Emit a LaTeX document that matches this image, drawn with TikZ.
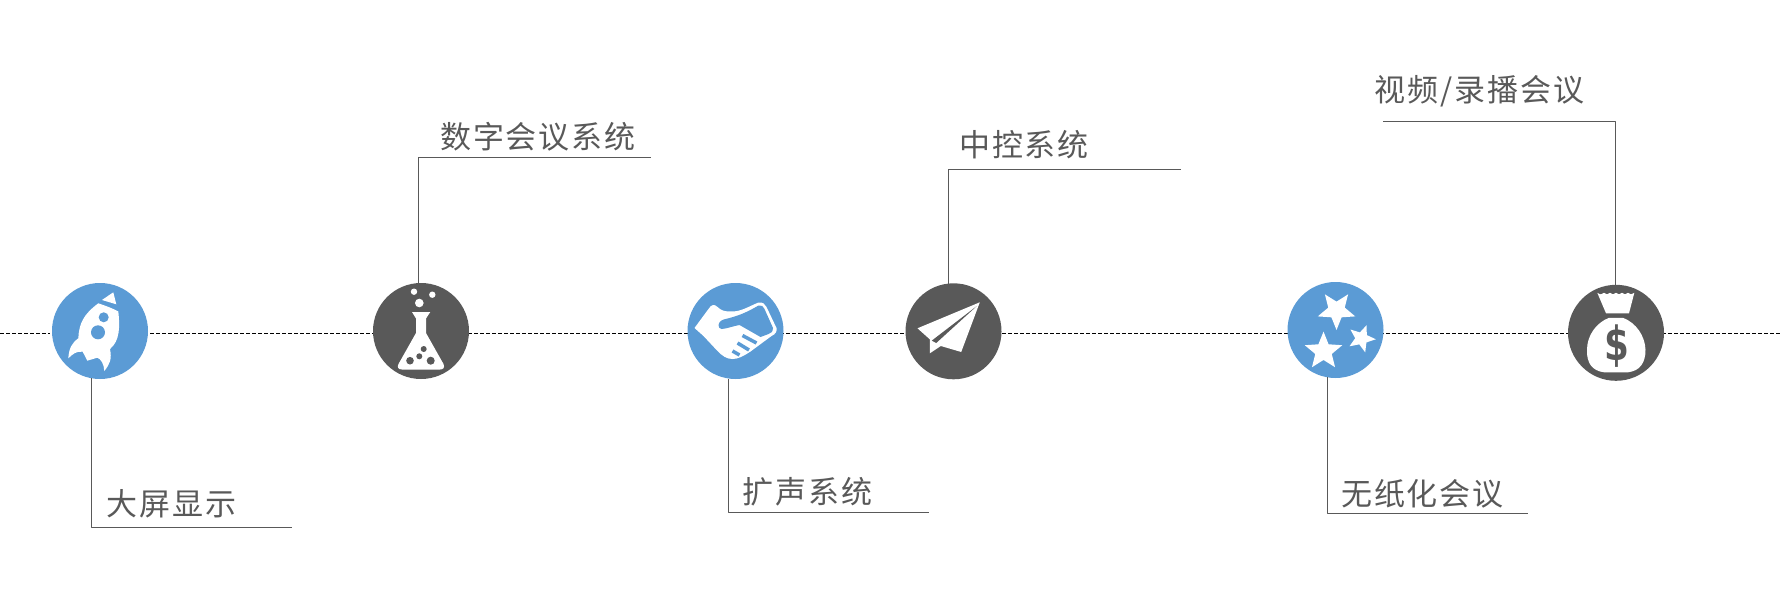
\documentclass[tikz,border=0pt]{standalone}
\usepackage{fontspec}
\setmainfont{Noto Sans CJK SC}[LetterSpace=6]
\newfontfamily\dollarfont{DejaVu Sans}
\definecolor{iconblue}{HTML}{5B9BD5}
\definecolor{icongray}{HTML}{595959}
\tikzset{
	bluedot/.style={circle,fill=iconblue,inner sep=0pt,outer sep=0pt,minimum size=96pt},
	graydot/.style={circle,fill=icongray,inner sep=0pt,outer sep=0pt,minimum size=96pt},
	leader/.style={draw=icongray,line width=1pt},
	caption/.style={anchor=west,inner sep=0pt,text=icongray,font=\fontsize{31}{36}\selectfont},
}
% five pointed star: centre, radius, angle of one tip
\newcommand{\iconstar}[3]{\fill[white,shift={(#1)}] (#3:#2) \foreach \i in {0,...,4} {-- ({#3+36+72*\i}:#2*0.44) -- ({#3+72+72*\i}:#2)} -- cycle;}
\begin{document}
\begin{tikzpicture}[x=1pt,y=-1pt,line join=round]
	\useasboundingbox (0,0) rectangle (1782,594);
	\coordinate (lineL) at (0,333.3);
	\coordinate (lineR) at (1782,333.3);
	\draw[black,line width=1pt,dash pattern=on 4pt off 2pt] (lineL)--(lineR);
	\draw[white,line width=2pt] (100,331) circle (49);
	\node[bluedot] (rocket) at (100,331) {};
	\node[graydot] (flask) at (421,331) {};
	\node[bluedot] (hands) at (735.5,331) {};
	\node[graydot] (plane) at (953.5,331.3) {};
	\node[bluedot] (stars) at (1335.5,330) {};
	\node[graydot] (bag) at (1616,332.8) {};
	\node[caption] (screen) at (106.5,504) {大屏显示};
	\node[caption] (digital) at (440,136.5) {数字会议系统};
	\node[caption] (audio) at (742.5,492) {扩声系统};
	\node[caption] (control) at (959,145) {中控系统};
	\node[caption] (paperless) at (1341,494) {无纸化会议};
	\node[caption] (video) at (1374.5,91) {视频/录播会议};
	\coordinate (screenEnd) at (291.5,527);
	\coordinate (digitalEnd) at (650.6,157.2);
	\coordinate (audioEnd) at (928.5,512.3);
	\coordinate (controlEnd) at (1180.8,169.3);
	\coordinate (paperlessEnd) at (1527.5,513.4);
	\coordinate (videoEnd) at (1383,121.2);
	\draw[leader] (rocket.-100.4) |- (screenEnd);
	\draw[leader] (flask.93.2) |- (digitalEnd);
	\draw[leader] (hands.-98.6) |- (audioEnd);
	\draw[leader] (plane.96.2) |- (controlEnd);
	\draw[leader] (stars.-100.8) |- (paperlessEnd);
	\draw[leader] (bag.91.5) |- (videoEnd);
	% rocket
	\begin{scope}[shift={(rocket.center)}]
		\fill[white] (2,-31)--(13.3,-38.7)--(16.3,-26.7)--cycle;
		\fill[white] (-1.7,-27.7) .. controls (6,-25) and (12,-23) .. (18.3,-19.5)
			.. controls (20,-5) and (20,10) .. (10,18) .. controls (12,28) and (10,33) .. (4.3,40)
			.. controls (4,33) and (1,28) .. (-2.7,26.7) -- (-12.7,29.7) -- (-17.3,20.7)
			.. controls (-24,20) and (-27,23) .. (-31.7,27.3) .. controls (-31,17) and (-28,12) .. (-21.7,7.3)
			.. controls (-21,-8) and (-16,-17) .. (-1.7,-27.7) -- cycle;
		\fill[iconblue] (3.7,-13.7) circle (5) (-2,1.3) circle (7);
	\end{scope}
	% flask
	\begin{scope}[shift={(flask.center)}]
		\fill[white] (-7,-39.3) circle (3.2) (11.3,-36.3) circle (3.2) (-1.7,-28) circle (4.3);
		\fill[white] (-9,-19) -- (9.3,-19) -- (5,-12.5) -- (5,2) -- (22.5,33) .. controls (24,37) and (22,38.5) .. (19,38.5)
			-- (-19,38.5) .. controls (-23,38.5) and (-24,36) .. (-22.5,33) -- (-5,2) -- (-5,-12.5) -- cycle;
		\fill[icongray] (2.7,18) circle (3) (-1.7,25.3) circle (3) (-11,29.7) circle (3.8) (9.7,29.7) circle (4);
	\end{scope}
	% handshake
	\begin{scope}[shift={(hands.center)}]
		\fill[white] (-41,-3) -- (-27,-22) .. controls (-24,-27) and (-21,-27) .. (-18,-24) .. controls (-14,-20) and (-10,-19.5) .. (-5,-19.5)
			.. controls (5,-19) and (12,-24) .. (23,-28.5) .. controls (27,-29) and (30,-27) .. (31,-24)
			-- (41,-3) .. controls (41.5,1) and (40,3) .. (36,5) -- (15,20.5) .. controls (8,25) and (3,28) .. (-3,28)
			.. controls (-9,28) and (-13,25) .. (-18,20) -- (-32,5) -- cycle;
		\fill[iconblue] (-17,-6) .. controls (-16,-10) and (-14,-11) .. (-10,-12) .. controls (3,-15) and (12,-19) .. (23,-25.5)
			.. controls (26,-26) and (28,-25) .. (29,-22) -- (37.5,-3) .. controls (37,1) and (36,2) .. (33,3) -- (25,6)
			-- (4,-6) .. controls (-2,-5) and (-10,-2) .. (-14,-2) .. controls (-16,-2) and (-17,-4) .. (-17,-6) -- cycle;
		\draw[iconblue,line width=3.5pt] (7,4.5)--(21,12) (2,12)--(13.5,19) (-3,20)--(4,24);
	\end{scope}
	% paper plane
	\begin{scope}[shift={(plane.center)}]
		\fill[white] (26.3,-29) -- (-36,-3) -- (-23.7,8) -- (-23.7,22) -- (-12.7,14.7) -- (7.7,20.7) -- cycle;
		\fill[icongray] (23,-25) -- (-21.7,9.3) -- (-17.3,11.7) -- cycle;
	\end{scope}
	% stars
	\begin{scope}[shift={(stars.center)}]
		\iconstar{1,-19.7}{19.7}{90}
		\iconstar{-12,21.3}{19.7}{-90}
		\iconstar{26,8.5}{14.3}{3}
	\end{scope}
	% money bag
	\begin{scope}[shift={(bag.center)}]
		\fill[white] (-18.7,-40) .. controls (-16,-38) and (-14,-38) .. (-12,-40) .. controls (-10,-38) and (-8,-38) .. (-6,-40)
			.. controls (-4,-38) and (-2,-38) .. (0,-40) .. controls (2,-38) and (4,-38) .. (6,-40)
			.. controls (8,-38) and (10,-38) .. (12,-40) .. controls (14,-38) and (16,-38) .. (18.3,-40)
			-- (13,-19.5) -- (-10,-19.5) -- cycle;
		\fill[white] (-7,-15) -- (7,-15) .. controls (20,-10) and (29,3) .. (29.5,17)
			.. controls (29.5,30) and (24,38) .. (12,39.5) -- (-12,39.5)
			.. controls (-24,38) and (-29.5,30) .. (-29,17) .. controls (-29,3) and (-20,-10) .. (-7,-15) -- cycle;
		\node[transform shape,xscale=.85,yscale=1.12,text=icongray,inner sep=0pt,font=\dollarfont\bfseries\fontsize{42}{42}\selectfont] (dollar) at (0.7,13) {\$};
	\end{scope}
\end{tikzpicture}
\end{document}
